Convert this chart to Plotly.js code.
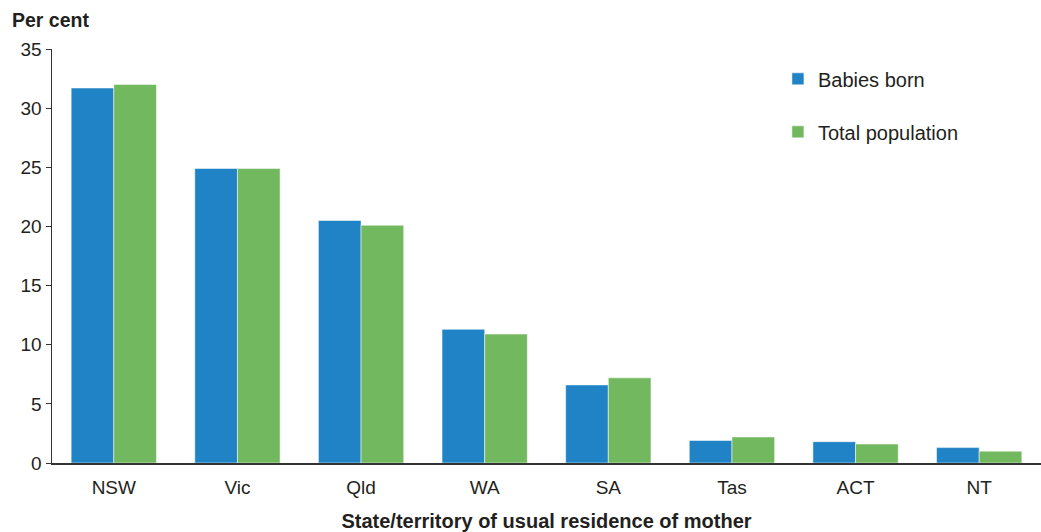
<!DOCTYPE html>
<html>
<head>
<meta charset="utf-8">
<script src="https://cdn.plot.ly/plotly-3.0.1.min.js"></script>
<style>html,body{margin:0;padding:0;background:#fff;}#chart{width:1041px;height:532px;}</style>
</head>
<body>
<div id="chart"></div>
<script>
const categories = ["NSW", "Vic", "Qld", "WA", "SA", "Tas", "ACT", "NT"];
const babiesBorn = [31.7, 24.9, 20.5, 11.3, 6.6, 1.9, 1.8, 1.3];
const totalPopulation = [32.0, 24.9, 20.1, 10.9, 7.2, 2.2, 1.6, 1.0];
const yTicks = [0, 5, 10, 15, 20, 25, 30, 35];

const fam = "Liberation Sans, Arial, sans-serif";
const font = {family: fam, size: 20, color: "#231f20"};
const tickFont = {family: fam, size: 19, color: "#231f20"};

const data = [
  {type: "bar", name: "Babies born", x: categories, y: babiesBorn, legendgroup: "a",
   marker: {color: "#1f83c6", line: {color: "rgba(255,255,255,0.5)", width: 1}}},
  {type: "bar", name: "Total population", x: categories, y: totalPopulation, legendgroup: "b",
   marker: {color: "#72b85e", line: {color: "rgba(255,255,255,0.5)", width: 1}}}
];

const layout = {
  width: 1041, height: 532,
  margin: {l: 52, r: 0, t: 49, b: 69},
  paper_bgcolor: "#fff", plot_bgcolor: "#fff",
  font: font,
  barmode: "group", bargap: 0.31, bargroupgap: 0,
  showlegend: true,
  legend: {x: 0.734, y: 0.975, xanchor: "left", yanchor: "top", traceorder: "grouped",
    tracegroupgap: 24, font: {family: fam, size: 20, color: "#231f20"}, itemwidth: 30,
    bgcolor: "rgba(0,0,0,0)"},
  xaxis: {showline: true, linecolor: "#333", linewidth: 2, ticks: "", showgrid: false,
    tickfont: tickFont, ticklabelstandoff: 6,
    title: {text: "<b>State/territory of usual residence of mother</b>", font: {family: fam, size: 20, color: "#231f20"}, standoff: 20}},
  yaxis: {range: [0, 35], tickvals: yTicks, ticktext: yTicks.map(String), showline: true,
    linecolor: "#333", linewidth: 1.5, ticks: "outside", ticklen: 5, tickcolor: "#333",
    showgrid: false, zeroline: false, tickfont: tickFont},
  annotations: [{text: "<b>Per cent</b>", xref: "paper", yref: "paper", x: -52/989, y: 1,
    xanchor: "left", yanchor: "bottom", yshift: 16, xshift: 10, showarrow: false,
    font: {family: fam, size: 19.5, color: "#231f20"}}]
};

Plotly.newPlot("chart", data, layout, {displayModeBar: false, staticPlot: true});
</script>
</body>
</html>
